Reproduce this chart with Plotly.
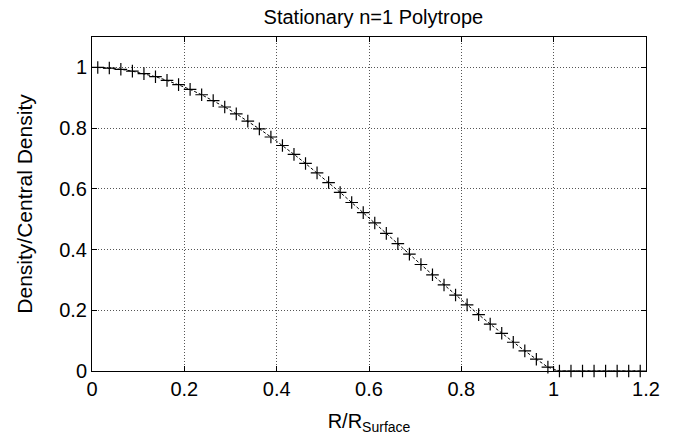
import plotly.graph_objects as go

# Radius (R/R_surface) sample points
radius = [0.0125, 0.0375, 0.0625, 0.0875, 0.1125, 0.1375, 0.1625, 0.1875,
          0.2125, 0.2375, 0.2625, 0.2875, 0.3125, 0.3375, 0.3625, 0.3875,
          0.4125, 0.4375, 0.4625, 0.4875, 0.5125, 0.5375, 0.5625, 0.5875,
          0.6125, 0.6375, 0.6625, 0.6875, 0.7125, 0.7375, 0.7625, 0.7875,
          0.8125, 0.8375, 0.8625, 0.8875, 0.9125, 0.9375, 0.9625, 0.9875,
          1.0125, 1.0375, 1.0625, 1.0875, 1.1125, 1.1375, 1.1625, 1.1875]

# Density / central density at each point
density = [0.9997, 0.9977, 0.9936, 0.9875, 0.9793, 0.9692, 0.9571, 0.9432,
           0.9274, 0.9098, 0.8904, 0.8695, 0.8469, 0.8229, 0.7974, 0.7707,
           0.7427, 0.7136, 0.6835, 0.6524, 0.6206, 0.5881, 0.5550, 0.5215,
           0.4876, 0.4534, 0.4192, 0.3850, 0.3508, 0.3169, 0.2834, 0.2502,
           0.2177, 0.1857, 0.1545, 0.1241, 0.0947, 0.0662, 0.0389, 0.0127,
           0.0, 0.0, 0.0, 0.0, 0.0, 0.0, 0.0, 0.0]

x_ticks = [0, 0.2, 0.4, 0.6, 0.8, 1.0, 1.2]
x_tick_labels = ["0", "0.2", "0.4", "0.6", "0.8", "1", "1.2"]
y_ticks = [0, 0.2, 0.4, 0.6, 0.8, 1.0]
y_tick_labels = ["0", "0.2", "0.4", "0.6", "0.8", "1"]

FONT = "Liberation Sans, Arial, Helvetica, sans-serif"

fig = go.Figure()
fig.add_trace(go.Scatter(
    x=radius, y=density, mode="lines+markers",
    line=dict(color="black", width=1, dash="3px,2px"),
    marker=dict(symbol="cross-thin", size=9, line=dict(color="black", width=1.2)),
    showlegend=False, cliponaxis=False,
))

axis_common = dict(
    showline=True, linecolor="black", linewidth=1, mirror="allticks",
    ticks="inside", ticklen=5, tickcolor="black",
    showgrid=True, gridcolor="#555555", gridwidth=1, griddash="1px,2px",
    zeroline=False, tickfont=dict(family=FONT, size=20, color="black"),
)

fig.update_xaxes(range=[0, 1.2], tickvals=x_ticks, ticktext=x_tick_labels,
                 title=dict(text="R/R<sub>Surface</sub>", font=dict(family=FONT, size=20, color="black"), standoff=14),
                 **axis_common)
fig.update_yaxes(range=[0, 1.1], tickvals=y_ticks, ticktext=y_tick_labels,
                 title=dict(text="Density/Central Density", font=dict(family=FONT, size=21, color="black"), standoff=20),
                 **axis_common)

fig.update_layout(
    width=694, height=442,
    margin=dict(l=92, r=48, t=37, b=71),
    paper_bgcolor="white", plot_bgcolor="white",
    title=dict(text="Stationary n=1 Polytrope", x=0.538, xanchor="center",
               y=0.962, yanchor="middle",
               font=dict(family=FONT, size=20, color="black")),
    font=dict(family=FONT, color="black"),
)

fig.write_html("out.html")
